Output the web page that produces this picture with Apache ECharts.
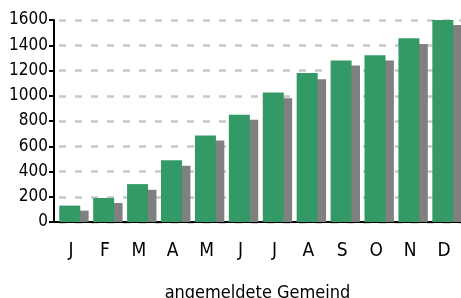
<!DOCTYPE html>
<html>
<head>
<meta charset="utf-8">
<script src="https://cdn.jsdelivr.net/npm/echarts@6/dist/echarts.min.js"></script>
<style>
  html, body { margin: 0; padding: 0; background: #fff; }
  #chart { width: 461px; height: 298px; }
</style>
</head>
<body>
<div id="chart"></div>
<script>
const months = ["J", "F", "M", "A", "M", "J", "J", "A", "S", "O", "N", "D"];
const greenValues = [130, 190, 300, 490, 685, 850, 1025, 1180, 1280, 1320, 1455, 1600];
const grayValues = [90, 150, 255, 445, 645, 810, 980, 1130, 1240, 1280, 1410, 1560];
const yTicks = [0, 200, 400, 600, 800, 1000, 1200, 1400, 1600];
const axisName = "angemeldete Gemeind";

const font = "'DejaVu Sans Condensed', 'Liberation Sans Narrow', sans-serif";

const myChart = echarts.init(document.getElementById("chart"));

const option = {
    animation: false,
    textStyle: { fontFamily: font },
    grid: [
        { left: 54, right: 0, top: 20, bottom: 76, outerBoundsMode: "none", containLabel: false },
        // bars sit a bit right of the category centres in the original
        { left: 57, right: -3, top: 20, bottom: 76, outerBoundsMode: "none", containLabel: false },
    ],
    xAxis: [
        {
            type: "category",
            gridIndex: 0,
            data: months,
            name: axisName,
            nameLocation: "middle",
            nameGap: 62,
            nameTextStyle: { color: "#000", fontSize: 18, fontFamily: font },
            axisLine: { lineStyle: { color: "#000", width: 2 } },
            axisTick: { length: 5, lineStyle: { color: "#000", width: 2 } },
            axisLabel: { color: "#000", fontSize: 19, margin: 20, fontFamily: font },
        },
        {
            type: "category",
            gridIndex: 1,
            data: months,
            show: false,
        },
    ],
    yAxis: [
        {
            type: "value",
            gridIndex: 0,
            min: yTicks[0],
            max: yTicks[yTicks.length - 1],
            interval: 200,
            axisLine: { show: true, lineStyle: { color: "#000", width: 2 } },
            axisTick: { show: true, length: 5, lineStyle: { color: "#000", width: 2 } },
            axisLabel: {
                color: "#000",
                fontSize: 17,
                margin: 6,
                fontFamily: font,
                formatter: (v) => String(v),
            },
            splitLine: {
                lineStyle: { type: [7, 9], dashOffset: -5, color: "#c8c8c8", width: 2.5 },
            },
        },
        {
            type: "value",
            gridIndex: 1,
            min: yTicks[0],
            max: yTicks[yTicks.length - 1],
            show: false,
            splitLine: { show: false },
        },
    ],
    series: [
        {
            name: "green",
            type: "bar",
            xAxisIndex: 1,
            yAxisIndex: 1,
            data: greenValues,
            barWidth: 21,
            barGap: "-60%",
            z: 3,
            itemStyle: { color: "#339966" },
        },
        {
            name: "gray",
            type: "bar",
            xAxisIndex: 1,
            yAxisIndex: 1,
            data: grayValues,
            barWidth: 21,
            barGap: "-60%",
            z: 2,
            itemStyle: { color: "#808080" },
        },
    ],
};

myChart.setOption(option);
</script>
</body>
</html>
